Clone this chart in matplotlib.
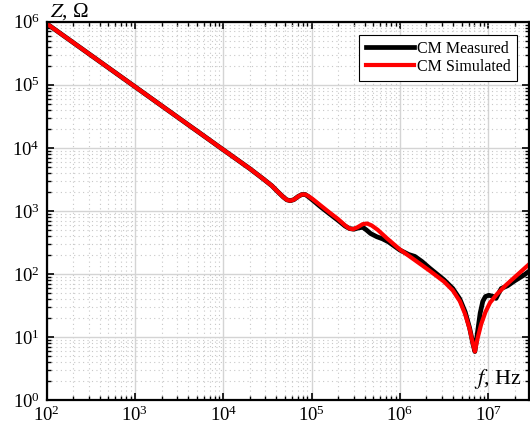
import matplotlib
matplotlib.use("Agg")
import matplotlib.pyplot as plt

plt.rcParams['font.family'] = ['Liberation Serif', 'DejaVu Serif']
plt.rcParams['mathtext.fontset'] = 'stix'

# frequency (Hz) and impedance (Ohm)
f_meas = [1e2, 1e3, 1e4, 2.0e4, 2.82e4, 3.55e4, 4.17e4, 4.79e4, 5.25e4, 5.75e4, 6.31e4,
          7.08e4, 7.76e4, 8.51e4, 9.33e4, 1.05e5, 1.26e5, 1.58e5, 2.0e5, 2.4e5, 2.69e5,
          3.02e5, 3.39e5, 3.8e5, 4.17e5, 4.68e5, 5.5e5, 6.31e5, 7.41e5, 1.0e6, 1.26e6,
          1.48e6, 1.78e6, 2.19e6, 3.16e6, 3.98e6, 4.79e6, 5.5e6, 6.17e6, 6.76e6, 7.08e6,
          7.59e6, 8.13e6, 8.71e6, 9.33e6, 1.02e7, 1.15e7, 1.23e7, 1.32e7, 1.41e7, 1.66e7,
          2.0e7, 2.51e7, 2.95e7]
z_meas = [9.33e5, 9.33e4, 9.33e3, 4.68e3, 3.24e3, 2.51e3, 2.0e3, 1.66e3, 1.5e3, 1.45e3, 1.51e3,
          1.70e3, 1.82e3, 1.82e3, 1.66e3, 1.45e3, 1.17e3, 912, 708, 575, 525,
          513, 537, 550, 501, 437, 389, 363, 324, 240, 204,
          190, 158, 123, 81, 59, 40, 25, 14, 7.6, 5.9,
          12, 24, 37, 44, 46, 44, 41, 50, 59, 65,
          78, 95, 112]

f_sim = [1e2, 1e3, 1e4, 2.0e4, 2.82e4, 3.55e4, 4.17e4, 4.79e4, 5.25e4, 5.75e4, 6.31e4,
         7.08e4, 7.76e4, 8.51e4, 9.33e4, 1.05e5, 1.26e5, 1.58e5, 2.0e5, 2.4e5, 2.69e5,
         2.95e5, 3.31e5, 3.8e5, 4.27e5, 4.79e5, 5.62e5, 7.08e5, 1.0e6, 1.48e6, 2.19e6,
         3.16e6, 3.98e6, 4.79e6, 5.5e6, 6.17e6, 6.76e6, 7.08e6, 7.59e6, 8.32e6, 9.33e6,
         1.05e7, 1.26e7, 1.58e7, 2.0e7, 2.95e7]
z_sim = [9.33e5, 9.33e4, 9.33e3, 4.68e3, 3.24e3, 2.51e3, 2.0e3, 1.66e3, 1.5e3, 1.45e3, 1.51e3,
         1.70e3, 1.82e3, 1.82e3, 1.70e3, 1.51e3, 1.23e3, 955, 741, 589, 525,
         513, 550, 617, 631, 589, 501, 372, 245, 166, 112,
         76, 55, 37, 23, 13.5, 7.6, 5.9, 9.5, 15.8, 25,
         35, 48, 66, 89, 145]

fig = plt.figure(figsize=(5.3, 4.34), dpi=100)
ax = fig.add_axes([0.088, 0.078, 0.91, 0.872])

ax.loglog(f_meas, z_meas, color='black', lw=3.4, label='CM Measured')
ax.loglog(f_sim, z_sim, color='red', lw=3.0, label='CM Simulated')

ax.set_xlim(1e2, 2.9e7)
ax.set_ylim(1e0, 1e6)
ax.grid(True, which='major', color='#d4d4d4', lw=1.0, ls='-')
ax.grid(True, which='minor', color='#c8c8c8', lw=0.8, ls=(0, (1, 3)))
ax.tick_params(which='both', direction='in', top=True, right=True, labelsize=13.5)
ax.tick_params(axis='x', pad=4)
ax.tick_params(axis='y', pad=5)
ax.tick_params(which='major', length=5, width=1.2)
ax.tick_params(which='minor', length=3, width=1.0)
for s in ax.spines.values():
    s.set_linewidth(1.6)

ax.text(0.007, 1.0, r'$Z$, Ω', transform=ax.transAxes, fontsize=15,
        ha='left', va='bottom')
ax.text(0.985, 0.025, r'$f$, Hz', transform=ax.transAxes, fontsize=16,
        ha='right', va='bottom')

leg = ax.legend(loc='upper right', bbox_to_anchor=(0.975, 0.966), borderaxespad=0,
                fontsize=11.5, frameon=True, fancybox=False, edgecolor='black',
                framealpha=1, handlelength=3.0, handletextpad=0.2, borderpad=0.4,
                labelspacing=0.1)
leg.get_frame().set_linewidth(0.8)

fig.savefig('out.png', dpi=100)
